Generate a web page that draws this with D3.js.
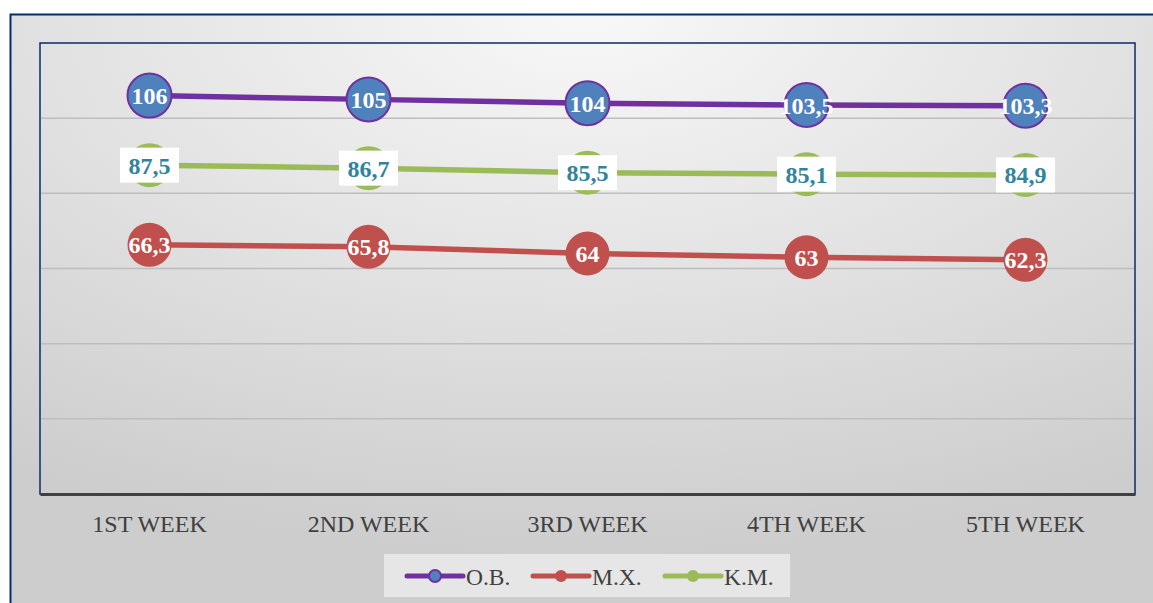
<!DOCTYPE html>
<html><head><meta charset="utf-8">
<script src="https://cdn.jsdelivr.net/npm/d3@7"></script>
<style>html,body{margin:0;padding:0;background:#fff;overflow:hidden}</style>
</head><body><svg id="c" width="1153" height="603"></svg>
<script>
const categories = ["1ST WEEK","2ND WEEK","3RD WEEK","4TH WEEK","5TH WEEK"];
const seriesNames = ["O.B.","M.X.","K.M."];
const obValues = [106,105,104,103.5,103.3];
const mxValues = [66.3,65.8,64,63,62.3];
const kmValues = [87.5,86.7,85.5,85.1,84.9];
const yTicks = [0,20,40,60,80,100,120];

const svg = d3.select("#c");
const defs = svg.append("defs");
const g1 = defs.append("radialGradient").attr("id","bg").attr("cx","50%").attr("cy","0%").attr("r","90%")
  .attr("fx","50%").attr("fy","0%");
g1.append("stop").attr("offset","0%").attr("stop-color","#f8f8f8");
g1.append("stop").attr("offset","100%").attr("stop-color","#cdcdcd");

svg.append("rect").attr("x",10.5).attr("y",14.5).attr("width",1150).attr("height",600)
  .attr("fill","url(#bg)").attr("stroke","#0b2a6b").attr("stroke-width",2);

const L=40, R=1135, T=43, B=494;
const x = d3.scaleBand().domain(categories).range([L,R]);
const y = d3.scaleLinear().domain([0,120]).range([B,T]);

svg.append("rect").attr("x",L).attr("y",T).attr("width",R-L).attr("height",B-T)
  .attr("fill","none").attr("stroke","#0b2a6b").attr("stroke-width",1.5);

svg.append("g").selectAll("line").data(yTicks.filter(d=>d>0 && d<120)).join("line")
  .attr("x1",L+1).attr("x2",R-1).attr("y1",d=>y(d)).attr("y2",d=>y(d))
  .attr("stroke","#bdbdbd").attr("stroke-width",1.5);

const xAxis = svg.append("g").attr("transform",`translate(0,${B})`).call(d3.axisBottom(x).tickSize(0).tickPadding(21));
xAxis.select(".domain").attr("stroke","#404040").attr("stroke-width",3);
xAxis.selectAll("text").attr("font-family","Liberation Serif, Times New Roman, serif").attr("font-size",24).attr("fill","#404040");

const series = [
  {name:seriesNames[0], values:obValues, line:"#7030a0", fill:"#4f81bd", stroke:"#7030a0", text:"#ffffff", box:false},
  {name:seriesNames[1], values:mxValues, line:"#c0504d", fill:"#c0504d", stroke:"none", text:"#ffffff", box:false},
  {name:seriesNames[2], values:kmValues, line:"#9bbb59", fill:"#9bbb59", stroke:"none", text:"#31849b", box:true}
];
const cx = c => x(c)+x.bandwidth()/2;
const fmt = v => String(v).replace(".",",");
const line = d3.line().x(d=>cx(d.c)).y(d=>y(d.v));

series.forEach(s=>{
  const pts = categories.map((c,i)=>({c, v:s.values[i]}));
  const g = svg.append("g");
  g.append("path").datum(pts).attr("d",line).attr("fill","none").attr("stroke",s.line).attr("stroke-width",5.5);
  g.selectAll("circle").data(pts).join("circle").attr("cx",d=>cx(d.c)).attr("cy",d=>y(d.v)).attr("r",22)
    .attr("fill",s.fill).attr("stroke",s.stroke).attr("stroke-width",2);
  if(s.box){
    g.selectAll("rect.lb").data(pts).join("rect").attr("class","lb")
      .attr("x",d=>cx(d.c)-29.5).attr("y",d=>y(d.v)-17.5).attr("width",59).attr("height",35).attr("fill","#ffffff");
  }
  g.selectAll("text").data(pts).join("text").attr("x",d=>cx(d.c)).attr("y",d=>y(d.v)+8.5)
    .attr("text-anchor","middle").attr("font-family","Liberation Serif, Times New Roman, serif")
    .attr("font-weight","bold").attr("font-size",24).attr("fill",s.text).text(d=>fmt(d.v));
});

svg.append("rect").attr("x",384).attr("y",554).attr("width",406).attr("height",43).attr("fill","#e6e6e6");
const legX = [407,533,665];
series.forEach((s,i)=>{
  const g = svg.append("g").attr("transform",`translate(${legX[i]},576)`);
  g.append("line").attr("x1",0).attr("x2",56).attr("y1",0).attr("y2",0).attr("stroke",s.line).attr("stroke-width",5).attr("stroke-linecap","round");
  g.append("circle").attr("cx",28).attr("cy",0).attr("r",6).attr("fill",s.fill).attr("stroke",s.stroke).attr("stroke-width",2);
  g.append("text").attr("x",59).attr("y",8.5).attr("font-family","Liberation Serif, Times New Roman, serif")
    .attr("font-size",23.5).attr("fill","#404040").text(s.name);
});
</script></body></html>
